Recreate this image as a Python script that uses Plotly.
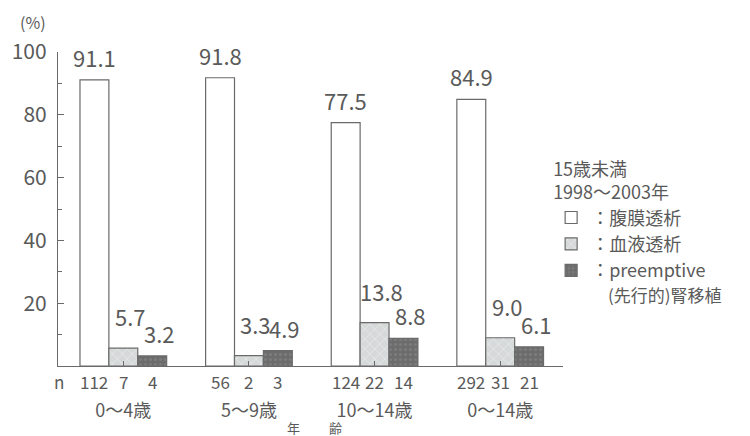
import plotly.graph_objects as go

groups = ["0～4歳", "5～9歳", "10～14歳", "0～14歳"]
series_names = ["：腹膜透析", "：血液透析", "：preemptive"]
legend_extra = "(先行的)腎移植"
pd_vals = [91.1, 91.8, 77.5, 84.9]
hd_vals = [5.7, 3.3, 13.8, 9.0]
pe_vals = [3.2, 4.9, 8.8, 6.1]
pd_n = [112, 56, 124, 292]
hd_n = [7, 2, 22, 31]
pe_n = [4, 3, 14, 21]
y_ticks = [0, 20, 40, 60, 80, 100]

FONT = "Noto Sans CJK JP"
TXT = "#5a5a5a"
LINE = "#6a6a6a"
BARGAP = 0.31

values = [pd_vals, hd_vals, pe_vals]
counts = [pd_n, hd_n, pe_n]
styles = [
    dict(color="#ffffff", line=dict(color=LINE, width=1.2)),
    dict(color="#dcdfdf", line=dict(color=LINE, width=1.2),
         pattern=dict(shape="x", fgcolor="#f5f5f5", bgcolor="#d6d9d9", size=7, solidity=0.25)),
    dict(color="#6f6f6f", line=dict(color=LINE, width=1.2),
         pattern=dict(shape=".", fgcolor="#8c8c8c", bgcolor="#6c6c6c", size=5, solidity=0.3)),
]

fig = go.Figure()
idx = list(range(len(groups)))
for k in range(3):
    fig.add_trace(go.Bar(x=idx, y=values[k], name=series_names[k], marker=styles[k]))

w = (1 - BARGAP) / 3
label_xshift = [0, 7, 7]
label_yshift = [5, 14, 5]
ann = []
for k in range(3):
    for i in idx:
        xc = i + (k - 1) * w
        ann.append(dict(x=xc, y=values[k][i], xref="x", yref="y", text=f"{values[k][i]:.1f}",
                        showarrow=False, yanchor="bottom", xanchor="center",
                        xshift=label_xshift[k], yshift=label_yshift[k],
                        font=dict(family=FONT, size=22, color=TXT)))
        ann.append(dict(x=xc, y=0, xref="x", yref="y", text=str(counts[k][i]),
                        showarrow=False, yanchor="middle", xanchor="center", yshift=-15,
                        font=dict(family=FONT, size=17, color=TXT)))
ann.append(dict(x=0, y=0, xref="paper", yref="y", text="n", showarrow=False,
                yanchor="middle", xanchor="center", xshift=1, yshift=-15,
                font=dict(family=FONT, size=17, color=TXT)))
ann.append(dict(x=0, y=1, xref="paper", yref="paper", text="(%)", showarrow=False,
                yanchor="middle", xanchor="center", xshift=-25, yshift=30,
                font=dict(family=FONT, size=16, color=TXT)))
ann.append(dict(x=0.5, y=0, xref="paper", yref="paper", text="年　　 齢", showarrow=False,
                yanchor="middle", xanchor="center", xshift=4, yshift=-61,
                font=dict(family=FONT, size=13, color=TXT)))
ann.append(dict(x=1.085, y=0, xref="paper", yref="paper", text=legend_extra, showarrow=False,
                yanchor="middle", xanchor="left", yshift=72,
                font=dict(family=FONT, size=17, color=TXT)))

fig.update_layout(
    width=750, height=436,
    margin=dict(l=56, r=187, t=52, b=70),
    paper_bgcolor="white", plot_bgcolor="white",
    barmode="group", bargap=BARGAP, bargroupgap=0,
    font=dict(family=FONT, color=TXT),
    annotations=ann,
    showlegend=True,
    legend=dict(x=0.9765, y=0.68, xanchor="left", yanchor="top",
                title=dict(text="15歳未満<br>1998～2003年", font=dict(family=FONT, size=18, color=TXT)),
                font=dict(family=FONT, size=18, color=TXT), bgcolor="rgba(0,0,0,0)",
                tracegroupgap=0),
)
fig.update_xaxes(
    range=[-0.52, 3.5], tickmode="array", tickvals=idx, ticktext=groups,
    showline=True, linecolor=LINE, linewidth=1.2, showgrid=False, zeroline=False,
    ticks="inside", tickson="boundaries", ticklen=5, tickcolor=LINE,
    ticklabelstandoff=28, tickfont=dict(family=FONT, size=18, color=TXT),
)
fig.update_yaxes(
    range=[0, 100], tickmode="array", tickvals=y_ticks, ticktext=["", "20", "40", "60", "80", "100"],
    showline=True, linecolor=LINE, linewidth=1.2, showgrid=False, zeroline=False,
    ticks="inside", ticklen=6, tickcolor=LINE, ticklabelstandoff=6,
    minor=dict(dtick=10, ticks="inside", ticklen=4, tickcolor=LINE),
    tickfont=dict(family=FONT, size=21, color=TXT),
)
fig.write_html("out.html")
